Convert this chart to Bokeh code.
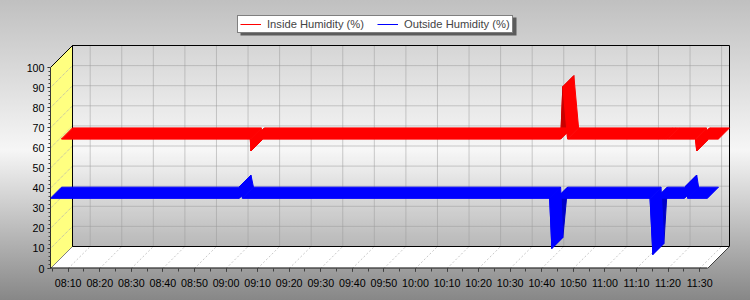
from bokeh.plotting import figure
from bokeh.models import Range1d, FixedTicker, Legend, LegendItem, BoxAnnotation
from bokeh.embed import file_html
from bokeh.resources import INLINE

# ---------------- data ----------------
times = ["08:04:24", "09:04:12", "09:04:24", "09:05:12",
         "10:42:30", "10:43:12", "10:44:42",
         "11:14:18", "11:15:12", "11:16:18",
         "11:25:12", "11:25:36", "11:26:12", "11:32:30"]
inside_humidity = [59, 59, 53, 59, 59, 85, 59, 59, 59, 59, 59, 53, 59, 59]
outside_humidity = [35, 35, 41, 35, 35, 10, 35, 35, 7, 35, 35, 41, 35, 35]
tick_labels = ["08:10", "08:20", "08:30", "08:40", "08:50", "09:00", "09:10",
               "09:20", "09:30", "09:40", "09:50", "10:00", "10:10", "10:20",
               "10:30", "10:40", "10:50", "11:00", "11:10", "11:20", "11:30"]
y_ticks = [0, 10, 20, 30, 40, 50, 60, 70, 80, 90, 100]
series_names = ["Inside Humidity (%)", "Outside Humidity (%)"]


def to_min(s):
    parts = [int(v) for v in s.split(":")]
    if len(parts) == 2:
        parts.append(0)
    h, m, sec = parts
    return (h - 8) * 60 + m + sec / 60.0


t = [to_min(s) for s in times]
tick_pos = [to_min(s) for s in tick_labels]
minor_x = sorted(set([v - 5 for v in tick_pos] + tick_pos))
minor_x = [v for v in minor_x if t[0] <= v <= t[-1]]
y_min, y_max = y_ticks[0], y_ticks[-1]

# ---------------- layout (pixels) ----------------
W, H = 750, 300
FRONT_W_PX = 657.0      # width of front plane
FRONT_H_PX = 201.0      # height of front plane 0..100
HALF_DEPTH_PX = 11.0    # depth of one series' ribbon
FRAME_W = 681
FRAME_H = 268

px_per_min = FRONT_W_PX / (t[-1] - t[0])
px_per_unit = FRONT_H_PX / (y_max - y_min)
DX = HALF_DEPTH_PX / px_per_min
DY = HALF_DEPTH_PX / px_per_unit
DX2, DY2 = 2 * DX, 2 * DY
x0, x1 = t[0], t[-1]

p = figure(width=W, height=H, output_backend="svg", toolbar_location=None,
           title=None,
           x_range=Range1d(x0, x0 + FRAME_W / px_per_min),
           y_range=Range1d(y_min, y_min + FRAME_H / px_per_unit),
           min_border_left=50, min_border_right=W - 50 - FRAME_W,
           min_border_top=0, min_border_bottom=H - FRAME_H)
p.styles = {"background": "linear-gradient(to bottom, #c0c0c0 0%, #f6f6f6 50%, #878787 100%)"}
p.border_fill_color = None
p.background_fill_color = None
p.outline_line_color = None
p.xgrid.visible = False
p.ygrid.visible = False

FONT = "Liberation Sans"
FS = "10.7px"

# ---- axes ----
p.xaxis.ticker = FixedTicker(ticks=tick_pos, minor_ticks=minor_x)
p.xaxis.major_label_overrides = {v: lab for v, lab in zip(tick_pos, tick_labels)}
p.yaxis.ticker = FixedTicker(ticks=y_ticks, minor_ticks=list(range(y_min, y_max + 1, 2)))
for ax in (p.xaxis[0], p.yaxis[0]):
    ax.axis_line_color = None
    ax.major_tick_in = 0
    ax.minor_tick_in = 0
    ax.major_tick_out = 3
    ax.major_tick_line_color = "#202020"
    ax.minor_tick_line_color = "#404040"
    ax.major_label_text_font = FONT
    ax.major_label_text_font_size = FS
    ax.major_label_text_color = "black"
p.xaxis.minor_tick_out = 3
p.yaxis.minor_tick_out = 2
p.xaxis.major_label_standoff = 5
p.yaxis.major_label_standoff = 3

# ---- walls ----
p.patch([x0 + DX2, x1 + DX2, x1 + DX2, x0 + DX2],
        [y_min + DY2, y_min + DY2, y_max + DY2, y_max + DY2],
        fill_color="white", fill_alpha=0.12, line_color=None)
p.patch([x0, x0, x0 + DX2, x0 + DX2], [y_min, y_max, y_max + DY2, y_min + DY2],
        fill_color="#ffff80", line_color="black", line_width=1)
p.patch([x0, x1, x1 + DX2, x0 + DX2], [y_min, y_min, y_min + DY2, y_min + DY2],
        fill_color="white", line_color=None)

# grid lines
gv = y_ticks[1:-1]
p.segment(x0=[x0 + DX2] * len(gv), y0=[v + DY2 for v in gv],
          x1=[x1 + DX2] * len(gv), y1=[v + DY2 for v in gv],
          line_color="#9a9a9a", line_dash="1 1", line_width=1)
p.segment(x0=[x0] * len(gv), y0=gv, x1=[x0 + DX2] * len(gv), y1=[v + DY2 for v in gv],
          line_color="#b0b0b0", line_dash="1 1", line_width=1)
p.segment(x0=[v + DX2 for v in tick_pos], y0=[y_min + DY2] * len(tick_pos),
          x1=[v + DX2 for v in tick_pos], y1=[y_max + DY2] * len(tick_pos),
          line_color="#9a9a9a", line_dash="1 1", line_width=1)
p.segment(x0=tick_pos, y0=[y_min] * len(tick_pos),
          x1=[v + DX2 for v in tick_pos], y1=[y_min + DY2] * len(tick_pos),
          line_color="#c8c8c8", line_dash="2 2", line_width=1)

# wall borders
p.line([x0 + DX2, x1 + DX2, x1 + DX2, x0 + DX2, x0 + DX2],
       [y_min + DY2, y_min + DY2, y_max + DY2, y_max + DY2, y_min + DY2],
       line_color="black", line_width=1)
p.line([x1, x1 + DX2], [y_min, y_min + DY2], line_color="#404040", line_width=1)

# ---- series: front edge lines (legend renderers), then ribbons on top ----
r_in = p.line([v + DX for v in t], [v + DY for v in inside_humidity],
              line_color="#ff0000", line_width=1)
r_out = p.line(t, outside_humidity, line_color="#0000ff", line_width=1)


def ribbon(values, oz, bright, dark):
    dk_x, dk_y, br_x, br_y = [], [], [], []
    for i in range(len(t) - 1):
        xs = [t[i] + oz * DX, t[i + 1] + oz * DX, t[i + 1] + (oz + 1) * DX, t[i] + (oz + 1) * DX]
        ys = [values[i] + oz * DY, values[i + 1] + oz * DY,
              values[i + 1] + (oz + 1) * DY, values[i] + (oz + 1) * DY]
        if values[i + 1] > values[i]:
            dk_x.append(xs); dk_y.append(ys)
        else:
            br_x.append(xs); br_y.append(ys)
    if dk_x:
        p.patches(dk_x, dk_y, fill_color=dark, line_color=dark, line_width=1)
    p.patches(br_x, br_y, fill_color=bright, line_color=bright, line_width=1)


ribbon(inside_humidity, 1, "#ff0000", "#c80000")
ribbon(outside_humidity, 0, "#0000ff", "#0000c8")

# front axis lines
p.line([x0, x0], [y_min, y_max], line_color="black", line_width=1)
p.line([x0, x1], [y_min, y_min], line_color="black", line_width=2)

# ---- legend ----
shadow = BoxAnnotation(left=240, right=516, top=17, bottom=35,
                       left_units="canvas", right_units="canvas",
                       top_units="canvas", bottom_units="canvas",
                       fill_color="#505050", fill_alpha=0.9, line_color=None)
p.add_layout(shadow)
legend = Legend(items=[LegendItem(label=series_names[0], renderers=[r_in]),
                       LegendItem(label=series_names[1], renderers=[r_out])],
                orientation="horizontal", location=(237 - 50, FRAME_H - 32.5),
                glyph_width=21, glyph_height=12, label_height=12,
                label_standoff=6, spacing=13, padding=2, margin=0,
                label_text_font=FONT, label_text_font_size="11.2px",
                border_line_color="black", border_line_width=1,
                background_fill_color="white", background_fill_alpha=1)
p.add_layout(legend)

open("out.html", "w").write(file_html(p, INLINE))
